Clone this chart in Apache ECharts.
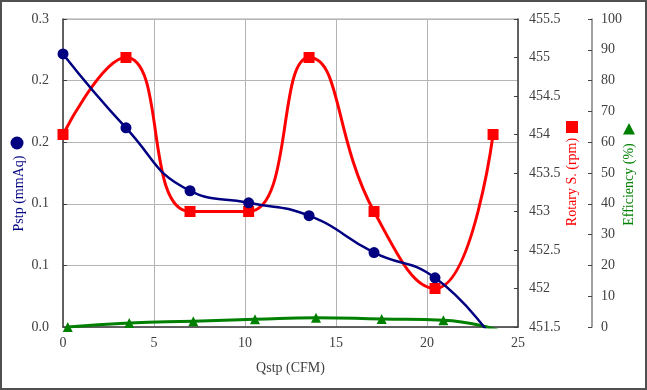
<!DOCTYPE html>
<html>
<head>
<meta charset="utf-8">
<script src="https://cdn.jsdelivr.net/npm/echarts@6/dist/echarts.min.js"></script>
<style>html,body{margin:0;padding:0;background:#fff}#c{width:647px;height:390px}</style>
</head>
<body>
<div id="c"></div>
<script>
// Data
var qstp = [0.0, 3.46, 6.98, 10.2, 13.52, 17.09, 20.44, 23.63];
var pstp = [0.266, 0.194, 0.1327, 0.121, 0.1084, 0.0725, 0.0479, -0.012];
var rotary = [454.0, 455.0, 453.0, 453.0, 455.0, 453.0, 452.0, 454.0];
var qstpEff = [0.26, 3.64, 7.16, 10.55, 13.9, 17.51, 20.9, 23.9];
var efficiency = [0.0, 1.3, 1.9, 2.5, 3.0, 2.6, 2.2, -1.0];
var pstpTickLabels = ['0.0', '0.1', '0.1', '0.2', '0.2', '0.3'];

function pairs(xs, ys) { return xs.map(function (x, i) { return [x, ys[i]]; }); }

var FONT = 'Liberation Serif';
var LBL = '#404040';
var chart = echarts.init(document.getElementById('c'));
chart.setOption({
  animation: false,
  textStyle: { fontFamily: FONT },
  graphic: [{
    type: 'rect', shape: { x: 1, y: 1, width: 645, height: 388 },
    style: { fill: 'none', stroke: '#505050', lineWidth: 2 }, silent: true
  }, {
    // axis-title key glyphs
    type: 'circle', shape: { cx: 17, cy: 143, r: 6.5 }, style: { fill: '#000080' }, silent: true
  }, {
    type: 'rect', shape: { x: 566, y: 121, width: 12, height: 12 }, style: { fill: '#ff0000' }, silent: true
  }, {
    type: 'polygon', shape: { points: [[629, 123], [635, 134.5], [623, 134.5]] }, style: { fill: '#008000' }, silent: true
  }],
  grid: { left: 63, right: 129, top: 19, bottom: 63, containLabel: false, outerBoundsMode: 'none',
    show: true, borderColor: '#a6a6a6', borderWidth: 1 },
  xAxis: {
    type: 'value', min: 0, max: 25, interval: 5,
    name: 'Qstp (CFM)', nameLocation: 'middle', nameGap: 34, nameMoveOverlap: false,
    nameTextStyle: { fontFamily: FONT, fontSize: 14, color: LBL },
    axisLine: { show: true, lineStyle: { color: '#404040', width: 1.5 } },
    axisTick: { show: false },
    axisLabel: { fontFamily: FONT, fontSize: 14, color: LBL, margin: 9 },
    splitLine: { show: true, lineStyle: { color: '#b4b4b4', width: 1 } }
  },
  yAxis: [{
    type: 'value', position: 'left', min: 0, max: 0.3, interval: 0.06,
    name: 'Pstp (mmAq)', nameLocation: 'middle', nameRotate: 90, nameGap: 37, nameMoveOverlap: false,
    nameTextStyle: { fontFamily: FONT, fontSize: 14, color: '#000080', padding: [0, 41, 0, 0] },
    axisLine: { show: true, lineStyle: { color: '#404040', width: 1.5 } },
    axisTick: { show: true, inside: true, length: 4, lineStyle: { color: '#404040' } },
    axisLabel: { fontFamily: FONT, fontSize: 14, color: LBL, margin: 14,
      formatter: function (v) { return pstpTickLabels[Math.round(v / 0.06)]; } },
    splitLine: { show: true, lineStyle: { color: '#b4b4b4', width: 1 } }
  }, {
    type: 'value', position: 'right', min: 451.5, max: 455.5, interval: 0.5,
    name: 'Rotary S. (rpm)', nameLocation: 'middle', nameRotate: 90, nameGap: 47, nameMoveOverlap: false,
    nameTextStyle: { fontFamily: FONT, fontSize: 14, color: '#ff0000', padding: [0, 18, 0, 0] },
    axisLine: { show: true, lineStyle: { color: '#404040', width: 1.5 } },
    axisTick: { show: true, inside: true, length: 4, lineStyle: { color: '#404040' } },
    axisLabel: { fontFamily: FONT, fontSize: 14, color: LBL, margin: 11 },
    splitLine: { show: false }
  }, {
    type: 'value', position: 'right', offset: 74, min: 0, max: 100, interval: 10,
    name: 'Efficiency (%)', nameLocation: 'middle', nameRotate: 90, nameGap: 30, nameMoveOverlap: false,
    nameTextStyle: { fontFamily: FONT, fontSize: 14, color: '#008000', padding: [0, 23, 0, 0] },
    axisLine: { show: true, lineStyle: { color: '#808080', width: 1.5 } },
    axisTick: { show: true, inside: true, length: 4, lineStyle: { color: '#404040' } },
    axisLabel: { fontFamily: FONT, fontSize: 14, color: LBL, margin: 9 },
    splitLine: { show: false }
  }],
  series: [{
    type: 'line', yAxisIndex: 2, data: pairs(qstpEff, efficiency), smooth: 0.5,
    symbol: 'triangle', symbolSize: 10, clip: true,
    lineStyle: { color: '#008000', width: 3 }, itemStyle: { color: '#008000' }
  }, {
    type: 'line', yAxisIndex: 1, data: pairs(qstp, rotary), smooth: 0.5,
    symbol: 'rect', symbolSize: 11, clip: true,
    lineStyle: { color: '#ff0000', width: 3 }, itemStyle: { color: '#ff0000' }
  }, {
    type: 'line', yAxisIndex: 0, data: pairs(qstp, pstp), smooth: 0.5,
    symbol: 'circle', symbolSize: 11, clip: true,
    lineStyle: { color: '#000080', width: 2.5 }, itemStyle: { color: '#000080' }
  }]
});
</script>
</body>
</html>
